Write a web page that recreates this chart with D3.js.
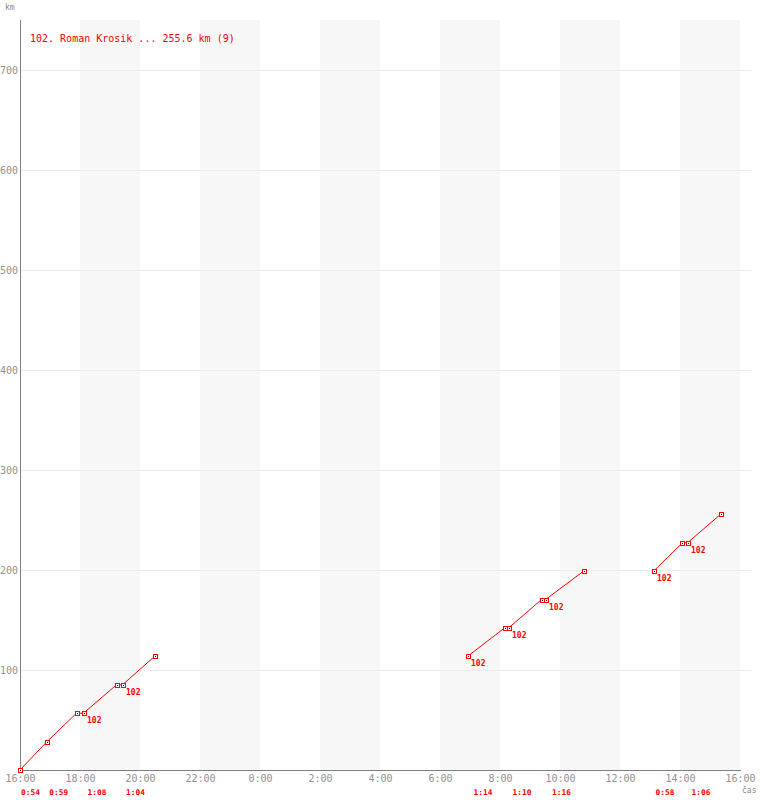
<!DOCTYPE html>
<html lang="cs">
<head>
  <meta charset="utf-8">
  <title>102. Roman Krosik</title>
  <script src="https://d3js.org/d3.v7.min.js"></script>
  <style>
    body { margin: 0; background: #fff; }
    text { font-family: "DejaVu Sans Mono", monospace; }
  </style>
</head>
<body>
<div id="chart"></div>
<script>
  // data
  var rider = "102";
  var legendText = "102. Roman Krosik ... 255.6 km (9)";
  var pointTimes = ["16:00", "16:54", "17:53", "18:07", "19:13", "19:25", "20:29",
                    "6:55", "8:09", "8:17", "9:23", "9:31", "10:47",
                    "13:07", "14:05", "14:15", "15:21"];
  var pointKm = [0, 28.4, 56.8, 56.8, 85.2, 85.2, 113.6,
                 113.6, 142.0, 142.0, 170.4, 170.4, 198.8,
                 198.8, 227.2, 227.2, 255.6];
  var pointSegment = [1, 1, 1, 1, 1, 1, 1, 2, 2, 2, 2, 2, 2, 3, 3, 3, 3];
  var pointTagged = [0, 0, 0, 1, 0, 1, 0, 1, 0, 1, 0, 1, 0, 1, 0, 1, 0];
  var lapTimes = ["0:54", "0:59", "1:08", "1:04", "1:14", "1:10", "1:16", "0:58", "1:06"];
  var yTicks = [100, 200, 300, 400, 500, 600, 700];

  var width = 760, height = 800;
  var mLeft = 20, mRight = 740, mTop = 20, mBottom = 770;

  var svg = d3.select("#chart").append("svg")
    .attr("width", width)
    .attr("height", height);

  // race runs 16:00 -> 16:00 next day
  function toDate(s) {
    var p = s.split(":");
    var h = +p[0], m = +p[1];
    if (h < 16) h += 24;
    return new Date(2000, 0, 1, h, m);
  }
  var t0 = new Date(2000, 0, 1, 16, 0), t1 = new Date(2000, 0, 2, 16, 0);

  var x = d3.scaleTime().domain([t0, t1]).range([mLeft, mRight]);
  var y = d3.scaleLinear().domain([0, 750]).range([mBottom, mTop]);

  var data = pointTimes.map(function (t, i) {
    return { t: toDate(t), km: pointKm[i], seg: pointSegment[i], tag: pointTagged[i] };
  });

  // alternating grey bands every 2 hours
  var bandTicks = x.ticks(d3.timeHour.every(2));
  svg.append("g").selectAll("rect")
    .data(bandTicks.filter(function (d, i) { return i % 2 == 1 && i < bandTicks.length - 1; }))
    .enter().append("rect")
    .attr("x", function (d) { return x(d); })
    .attr("y", mTop)
    .attr("width", function (d) { return x(d3.timeHour.offset(d, 2)) - x(d); })
    .attr("height", mBottom - mTop)
    .attr("fill", "#f7f7f7");

  // horizontal grid
  svg.append("g").selectAll("line")
    .data(yTicks).enter().append("line")
    .attr("x1", mLeft).attr("x2", 751)
    .attr("y1", function (d) { return Math.round(y(d)) + 0.5; })
    .attr("y2", function (d) { return Math.round(y(d)) + 0.5; })
    .attr("stroke", "#ececec");

  // axes
  var yAxis = svg.append("g")
    .attr("transform", "translate(" + (mLeft - 1) + ",0.5)")
    .call(d3.axisLeft(y).tickValues(yTicks).tickSize(0).tickPadding(1));
  yAxis.select(".domain").remove();
  yAxis.selectAll("text").attr("fill", "#909090").style("font-size", "10px")
    .style("font-family", "DejaVu Sans Mono, monospace");

  var xAxis = svg.append("g")
    .attr("transform", "translate(0," + (mBottom + 0.5) + ")")
    .call(d3.axisBottom(x).ticks(d3.timeHour.every(2)).tickFormat(d3.timeFormat("%-H:%M"))
      .tickSize(0).tickPadding(4));
  xAxis.select(".domain").remove();
  xAxis.selectAll("text").attr("fill", "#909090").style("font-size", "10px")
    .style("font-family", "DejaVu Sans Mono, monospace");

  svg.append("line")
    .attr("x1", mLeft + 0.5).attr("x2", mLeft + 0.5)
    .attr("y1", mTop).attr("y2", mBottom + 1)
    .attr("stroke", "#808080");
  svg.append("line")
    .attr("x1", mLeft).attr("x2", mRight + 1)
    .attr("y1", mBottom + 0.5).attr("y2", mBottom + 0.5)
    .attr("stroke", "#808080");

  svg.append("text").attr("x", 5).attr("y", 10)
    .attr("fill", "#8a8a8a").style("font-size", "8px").text("km");
  svg.append("text").attr("x", 742).attr("y", 793)
    .attr("fill", "#8a8a8a").style("font-size", "8px").text("čas");

  // lines per segment
  var line = d3.line()
    .x(function (d) { return x(d.t); })
    .y(function (d) { return y(d.km); });
  var segs = d3.groups(data, function (d) { return d.seg; });
  svg.append("g").selectAll("path")
    .data(segs).enter().append("path")
    .attr("d", function (d) { return line(d[1]); })
    .attr("fill", "none")
    .attr("stroke", "red")
    .attr("stroke-width", 1);

  // lap time labels under the axis
  var laps = [];
  for (var i = 1; i < data.length; i++) {
    if (data[i].seg == data[i - 1].seg && data[i].km > data[i - 1].km) {
      laps.push({ x: (x(data[i].t) + x(data[i - 1].t)) / 2, label: lapTimes[laps.length] });
    }
  }
  svg.append("g").selectAll("text")
    .data(laps).enter().append("text")
    .attr("x", function (d) { return d.x - 3; })
    .attr("y", 795)
    .attr("text-anchor", "middle")
    .attr("fill", "red")
    .style("font-size", "7.8px")
    .style("font-weight", "bold")
    .text(function (d) { return d.label; });

  // markers
  var marks = svg.append("g").selectAll("g")
    .data(data).enter().append("g")
    .attr("transform", function (d) {
      return "translate(" + Math.round(x(d.t)) + "," + Math.round(y(d.km)) + ")";
    });
  marks.append("rect")
    .attr("x", -1.5).attr("y", -1.5).attr("width", 4).attr("height", 4)
    .attr("fill", "#fff").attr("stroke", "red");
  marks.append("rect")
    .attr("x", 0).attr("y", 0).attr("width", 1).attr("height", 1)
    .attr("fill", "#400");

  // rider number next to pit-out points
  svg.append("g").selectAll("text")
    .data(data.filter(function (d) { return d.tag; })).enter().append("text")
    .attr("x", function (d) { return Math.round(x(d.t)) + 3; })
    .attr("y", function (d) { return Math.round(y(d.km)) + 10; })
    .attr("fill", "red")
    .style("font-size", "8px")
    .style("font-weight", "bold")
    .text(rider);

  // legend
  svg.append("text")
    .attr("x", 30).attr("y", 42)
    .attr("fill", "red")
    .style("font-size", "10px")
    .text(legendText);
</script>
</body>
</html>
